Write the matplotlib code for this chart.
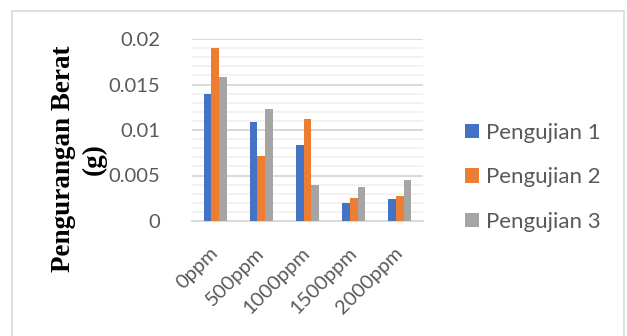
import numpy as np
import matplotlib
matplotlib.use('Agg')
import matplotlib.pyplot as plt
from matplotlib.patches import Rectangle
from matplotlib.ticker import MultipleLocator

categories = ['0ppm', '500ppm', '1000ppm', '1500ppm', '2000ppm']
series_names = ['Pengujian 1', 'Pengujian 2', 'Pengujian 3']
pengujian_1 = [0.0140, 0.0109, 0.0083, 0.0020, 0.0024]
pengujian_2 = [0.0190, 0.0071, 0.0112, 0.0025, 0.0028]
pengujian_3 = [0.0158, 0.0123, 0.0040, 0.0037, 0.0045]
colors = ['#4472C4', '#ED7D31', '#A5A5A5']

text_gray = '#595959'

fig = plt.figure(figsize=(6.27, 3.36), dpi=100)
fig.patches.append(Rectangle((12 / 627, -0.05), 612 / 627, 1.05 - 11 / 336,
                             transform=fig.transFigure, fill=False,
                             edgecolor='#d9d9d9', linewidth=1.2))

ax = fig.add_axes([192 / 627, 1 - 221 / 336, 231 / 627, 182 / 336])

x = np.arange(len(categories))
width = 0.166
for i, (vals, name) in enumerate(zip([pengujian_1, pengujian_2, pengujian_3], series_names)):
    ax.bar(x + (i - 1) * width, vals, width, color=colors[i], label=name, zorder=3)

ax.set_xlim(-0.5, len(categories) - 0.5)
ax.set_ylim(0, 0.02)
ax.yaxis.set_major_locator(MultipleLocator(0.005))
ax.yaxis.set_minor_locator(MultipleLocator(0.001))
ax.grid(which='major', axis='y', color='#d9d9d9', linewidth=1.4, zorder=0)
ax.grid(which='minor', axis='y', color='#f0f0f0', linewidth=1.2, zorder=0)
for s in ['top', 'right', 'left']:
    ax.spines[s].set_visible(False)
ax.spines['bottom'].set_color('#d9d9d9')
ax.spines['bottom'].set_linewidth(1.4)
ax.tick_params(which='both', length=0)
ax.tick_params(axis='y', pad=23, labelsize=14.5, labelcolor=text_gray)
ax.set_yticks([0, 0.005, 0.01, 0.015, 0.02])
ax.set_yticklabels(['0', '0.005', '0.01', '0.015', '0.02'], family='Lato')
ax.set_xticks(x)
ax.set_xticklabels(categories, rotation=45, ha='right', va='center',
                   rotation_mode='anchor', family='Lato', fontsize=14.5,
                   color=text_gray)
ax.tick_params(axis='x', pad=21)

fig.text(79 / 627, 1 - 159 / 336, 'Pengurangan Berat\n(g)', rotation=90,
         ha='center', va='center', family='Liberation Serif',
         fontweight='bold', fontsize=19.5, linespacing=1.3)

leg = ax.legend(loc='center left', bbox_to_anchor=(1 + 42 / 231, 0.24),
                frameon=False, borderpad=0, borderaxespad=0,
                prop={'family': 'Lato', 'size': 16}, labelspacing=1.1,
                handlelength=0.63, handleheight=0.6, handletextpad=0.33)
for t in leg.get_texts():
    t.set_color(text_gray)

fig.savefig('out.png', dpi=100)
